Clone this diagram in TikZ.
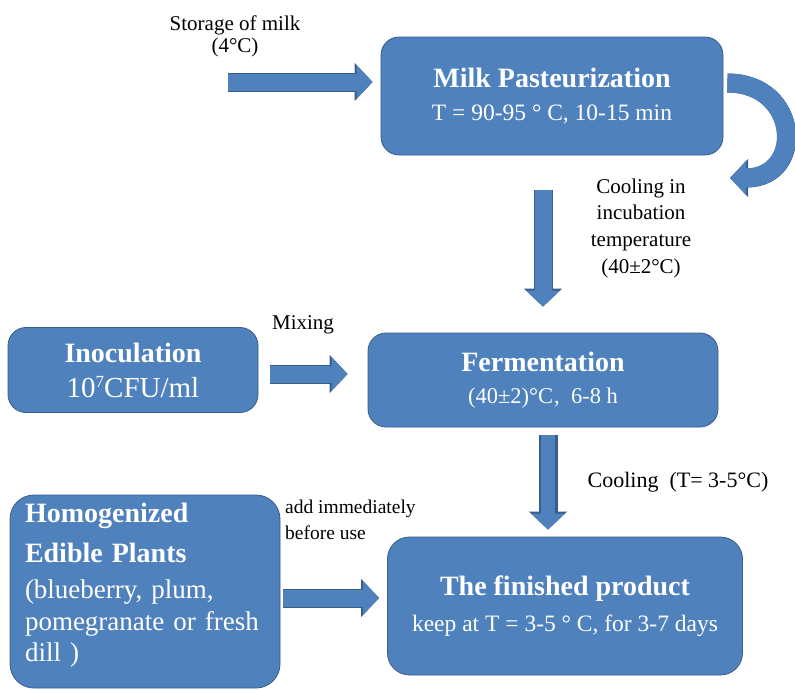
\documentclass[tikz,border=0pt]{standalone}
\usepackage{fontspec}
\setmainfont{Liberation Serif}
\usepackage{tikz}
\usetikzlibrary{arrows.meta, positioning, calc}
\definecolor{boxfill}{RGB}{79,129,189}
\definecolor{boxedge}{RGB}{56,93,138}
\newcommand{\stagetitle}[1]{{\fontsize{28}{32}\selectfont\bfseries #1}}

\begin{document}
\begin{tikzpicture}[
    x=1pt, y=-1pt,        % pixel-like grid, y going down
    stage/.style={rectangle, rounded corners=18pt, draw=boxedge, line width=0.8pt,
                  fill=boxfill, text=white, align=center, inner sep=0pt,
                  font=\fontsize{23.5}{33}\selectfont},
    remark/.style={align=center, inner sep=0pt, font=\fontsize{21}{22}\selectfont},
    blockarrow/.style={line width=17pt, draw=boxfill, -{Triangle[length=16pt,width=33pt]},
                  preaction={draw=boxedge, line width=19pt, -{Triangle[length=18pt,width=37pt]}}}
]
\useasboundingbox (0,0) rectangle (795,689);

\node[stage, minimum width=342pt, minimum height=118pt] (pasteur) at (552,96)
    {\stagetitle{Milk Pasteurization}\\ T = 90-95 ° C, 10-15 min};
\node[stage, minimum width=250pt, minimum height=85pt] (inoc) at (133,370)
    {\stagetitle{Inoculation}\\[2pt] {\fontsize{29}{34}\selectfont 10\raisebox{10pt}{\fontsize{17}{17}\selectfont 7}CFU/ml}};
\node[stage, minimum width=350pt, minimum height=94pt, font=\fontsize{22.5}{32}\selectfont] (ferment) at (543,380)
    {\stagetitle{Fermentation}\\ (40±2)°C\kern1pt,\enspace 6-8 h};
\node[stage, minimum width=355pt, minimum height=138pt, rounded corners=22pt] (finished) at (565,606)
    {\stagetitle{The finished product}\\[3pt] keep at T = 3-5 ° C, for 3-7 days};
\node[stage, minimum width=270pt, minimum height=193pt, rounded corners=24pt, align=left,
      text width=240pt, font=\fontsize{27}{31.5}\selectfont] (homog) at (145,591.5)
    {\stagetitle{Homogenized}\\[8pt] \stagetitle{Edible Plants}\\[5pt] (blueberry, plum,\\ pomegranate or fresh\\ dill )\\[-13.5pt] \mbox{}};

\node[remark] (storage) at (235,36) {Storage of milk\\(4°C)};
\node[remark, font=\fontsize{21}{26.7}\selectfont] (incub) at (641,228)
    {Cooling in\\ incubation\\ temperature\\ (40±2°C)};
\node[remark] (mixing) at (303,325) {Mixing};
\node[remark, font=\fontsize{22}{26}\selectfont] (coldstore) at (678,482) {Cooling\enspace(T= 3-5°C)};
\node[remark, align=left, anchor=west, font=\fontsize{19.5}{26}\selectfont] (addnote) at (285,520)
    {add immediately\\ before use};

\coordinate (milkin) at (228,82);
\coordinate (pastout) at ([yshift=13pt]pasteur.east);
\coordinate (coolturn) at (730,178);
\coordinate (mixout) at ([yshift=-4pt]inoc.east);
\coordinate (coolout) at ([xshift=5pt]ferment.south);
\coordinate (plantout) at ([yshift=-6.5pt]homog.east);

\draw[blockarrow, shorten >=8pt] (milkin) -- (milkin -| pasteur.west);
\draw[blockarrow, line width=19pt, shorten <=4pt] (pastout) .. controls +(77,0) and (805,178) .. (coolturn);
\draw[blockarrow, shorten <=35pt, shorten >=26pt] (ferment.north |- pasteur.south) -- (ferment.north);
\draw[blockarrow, shorten <=12pt, shorten >=20pt] (mixout) -- (mixout -| ferment.west);
\draw[blockarrow, line width=14pt, shorten <=8pt, shorten >=7pt] (coolout) -- (coolout |- finished.north);
\draw[blockarrow, shorten <=3pt, shorten >=8pt] (plantout) -- (plantout -| finished.west);

\end{tikzpicture}
\end{document}
